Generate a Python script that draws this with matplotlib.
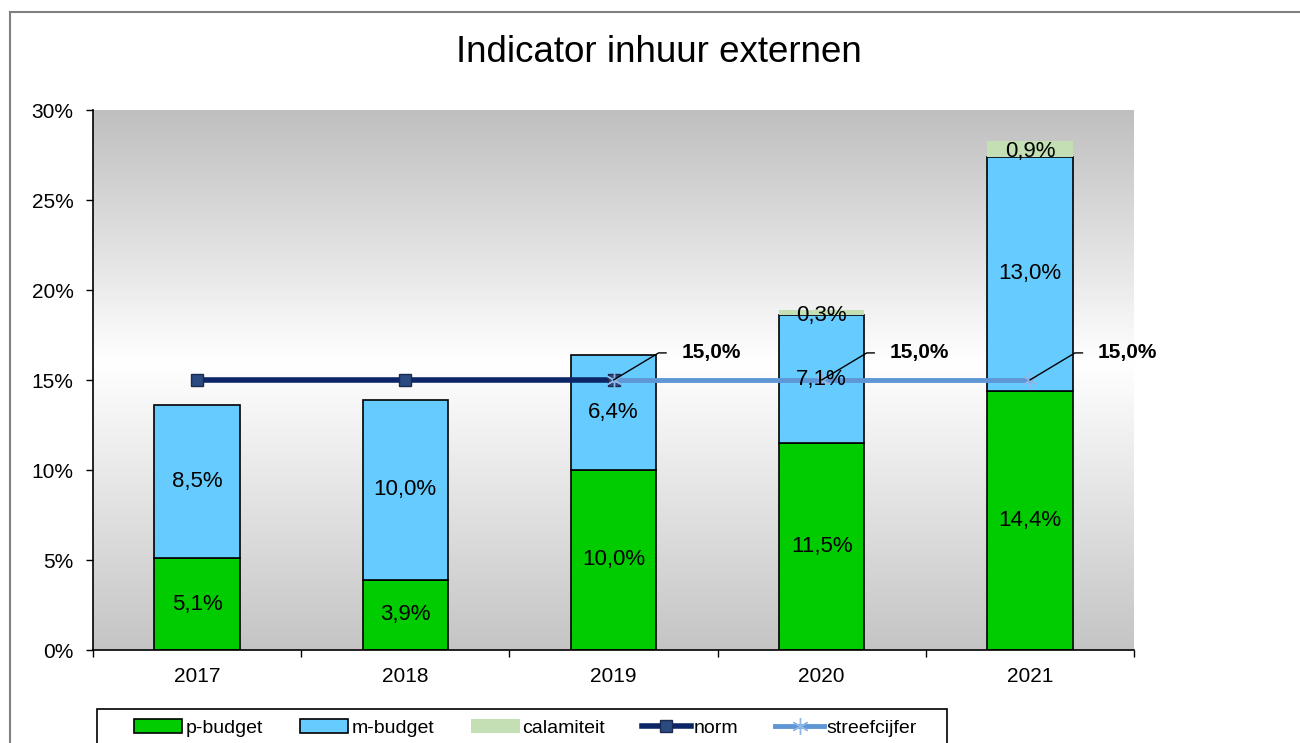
import matplotlib.pyplot as plt
import numpy as np
from matplotlib.lines import Line2D
from matplotlib.patches import Rectangle

# data
years = ['2017', '2018', '2019', '2020', '2021']
p_budget = [5.1, 3.9, 10.0, 11.5, 14.4]
m_budget = [8.5, 10.0, 6.4, 7.1, 13.0]
calamiteit = [0.0, 0.0, 0.0, 0.3, 0.9]
norm = [15.0, 15.0, 15.0, np.nan, np.nan]
streefcijfer = [np.nan, np.nan, 15.0, 15.0, 15.0]
yticks = [0, 5, 10, 15, 20, 25, 30]

plt.rcParams['font.family'] = ['Liberation Sans', 'DejaVu Sans']


def pct(v):
    return f"{v:.1f}".replace('.', ',') + '%'


fig = plt.figure(figsize=(13, 7.43), dpi=100)
W, H = 1300, 743
ax = fig.add_axes([93 / W, 1 - 650 / H, (1134 - 93) / W, 540 / H])

# grey-white-grey gradient in the plot area
rows = np.linspace(0, 1, 300)
shade = np.interp(rows, [0, 0.47, 1], [0.75, 1.0, 0.77])
grad = np.dstack([shade, shade, shade]).reshape(300, 1, 3)
ax.imshow(grad, extent=(-0.5, 4.5, 0, 30), aspect='auto', zorder=0)

x = np.arange(len(years))
bw = 0.41
p = np.array(p_budget)
m = np.array(m_budget)
c = np.array(calamiteit)

b1 = ax.bar(x, p, bw, color='#00cc00', edgecolor='black', lw=1.2, zorder=2, label='p-budget')
b2 = ax.bar(x, m, bw, bottom=p, color='#66ccff', edgecolor='black', lw=1.2, zorder=2, label='m-budget')
b3 = ax.bar(x, c, bw, bottom=p + m, color='#c4dfb4', lw=0, zorder=2, label='calamiteit')

# segment labels
for i in range(len(years)):
    ax.text(x[i], p[i] / 2, pct(p[i]), ha='center', va='center', fontsize=16, zorder=5)
    ax.text(x[i], p[i] + m[i] / 2, pct(m[i]), ha='center', va='center', fontsize=16, zorder=5)
    if c[i] > 0:
        ax.text(x[i], p[i] + m[i] + c[i] / 2 - 0.15, pct(c[i]), ha='center', va='center', fontsize=16, zorder=5)

ln1, = ax.plot(x, norm, color='#0b2566', lw=4, marker='s', ms=8,
               mfc='#2b4a80', mec='#1a2a50', zorder=3, label='norm')
ln2, = ax.plot(x, streefcijfer, color='#5f97d6', lw=3.5, marker=(6, 2, 0), ms=12,
               mec='#8fb8e6', mew=1, zorder=4, label='streefcijfer')

for i in range(len(years)):
    if not np.isnan(streefcijfer[i]):
        ax.annotate(pct(streefcijfer[i]), xy=(x[i], streefcijfer[i]), xytext=(49, 19.5),
                    textcoords='offset points', ha='left', va='center',
                    fontsize=15, fontweight='bold', zorder=6,
                    arrowprops=dict(arrowstyle='-', color='black', lw=1,
                                    connectionstyle='angle,angleA=0,angleB=31,rad=0',
                                    relpos=(0, 0.5), shrinkA=9, shrinkB=0))

ax.set_xlim(-0.5, 4.5)
ax.set_ylim(0, 30)
ax.set_yticks(yticks)
ax.set_yticklabels([f"{t}%" for t in yticks], fontsize=15)
ax.tick_params(axis='y', length=5, width=1, pad=9)
ax.set_xticks(x)
ax.set_xticklabels(years, fontsize=15)
ax.set_xticks(np.arange(-0.5, 5, 1), minor=True)
ax.tick_params(axis='x', which='major', length=0, pad=12)
ax.tick_params(axis='x', which='minor', length=5, width=1)
for s in ['top', 'right']:
    ax.spines[s].set_visible(False)
for s in ['left', 'bottom']:
    ax.spines[s].set_linewidth(1.2)

fig.text(659 / W, 1 - 52 / H, 'Indicator inhuur externen', ha='center', va='center', fontsize=26.5)

# legend box runs past the bottom edge, like in the original
fig.add_artist(Rectangle((97 / W, -0.02), 850 / W, (743 - 709) / H + 0.02, transform=fig.transFigure,
                         facecolor='white', edgecolor='black', lw=1.2, zorder=1))
leg = fig.legend(handles=[b1, b2, b3, ln1, ln2], loc='center left', bbox_to_anchor=(128 / W, 1 - 728 / H),
                 borderaxespad=0, ncol=5, fontsize=14, frameon=False,
                 handlelength=2.5, handleheight=0.75, handletextpad=0.15, columnspacing=1.9,
                 borderpad=0.3)
leg.set_zorder(2)

# outer chart border
fig.add_artist(Line2D([10 / W, 10 / W], [0, 1 - 12 / H], color='#808080', lw=1.5, transform=fig.transFigure))
fig.add_artist(Line2D([10 / W, 1], [1 - 12 / H, 1 - 12 / H], color='#808080', lw=1.5, transform=fig.transFigure))

fig.savefig('out.png', dpi=100)
